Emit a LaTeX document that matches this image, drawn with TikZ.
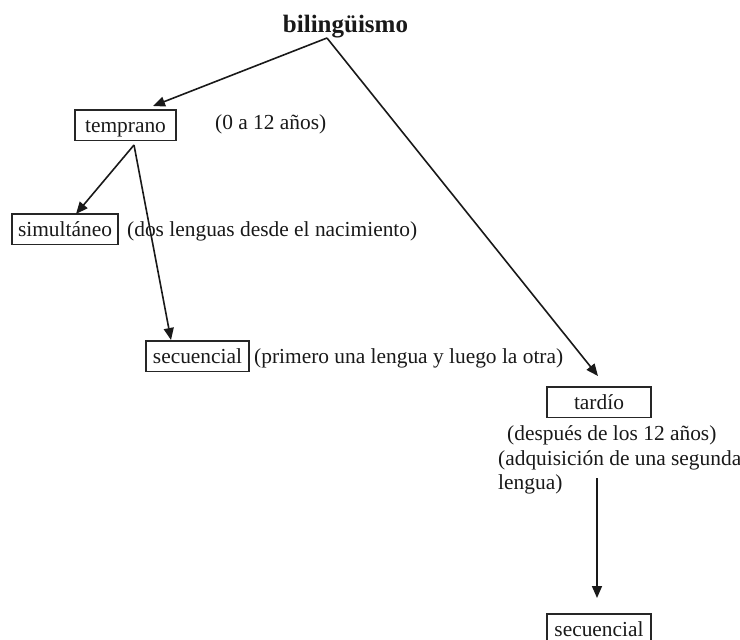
\documentclass[tikz,border=0pt]{standalone}
\usepackage{fontspec}
\setmainfont{Liberation Serif}
\usetikzlibrary{arrows.meta}
\begin{document}
\begin{tikzpicture}[x=1pt,y=-1pt,
  every node/.style={font=\fontsize{21.4}{26}\selectfont, inner sep=0pt, text=black!90},
  box/.style={draw=black!85, line width=1.1pt, text height=17.3pt, text depth=3.7pt,
              inner ysep=4.7pt, inner xsep=5pt, anchor=base},
  lbl/.style={anchor=base west},
  conn/.style={draw=black!90, line width=1.6pt, -{Triangle[length=12pt,width=10pt]}}]
\clip (0,0) rectangle (740,640);
% title
\node[anchor=base, font=\fontsize{25}{30}\selectfont\bfseries] (bil) at (345.5,32) {bilingüismo};
% boxes
\node[box, minimum width=101pt] (temp) at (125.5,132) {temprano};
\node[box, minimum width=106pt] (simu) at (65,236) {simultáneo};
\node[box, minimum width=103pt] (secu) at (197.5,363) {secuencial};
\node[box, minimum width=104pt] (tard) at (599,409) {tardío};
\node[box, minimum width=104pt] (secb) at (599,636) {secuencial};
% labels
\node[lbl] (l012) at (215,129) {(0 a 12 años)};
\node[lbl] (ldos) at (127,236) {(dos lenguas desde el nacimiento)};
\node[lbl] (lpri) at (254,363) {(primero una lengua y luego la otra)};
\node[lbl] (ldes) at (507,440) {(después de los 12 años)};
\node[lbl] (ladq) at (498,465) {(adquisición de una segunda};
\node[lbl] (llen) at (498,489) {lengua)};
% connector end points
\coordinate (apex) at (327,38);
\coordinate (ttip) at (153,106);
\coordinate (tbot) at (134,145);
\coordinate (stip) at (76,214);
\coordinate (qtip) at (171,340);
\coordinate (dtip) at (598,376);
\coordinate (bstart) at (597,478);
\coordinate (btip) at (597,598);
% connectors
\draw[conn] (apex) -- (ttip);
\draw[conn] (apex) -- (dtip);
\draw[conn] (tbot) -- (stip);
\draw[conn] (tbot) -- (qtip);
\draw[conn] (bstart) -- (btip);
\end{tikzpicture}
\end{document}
